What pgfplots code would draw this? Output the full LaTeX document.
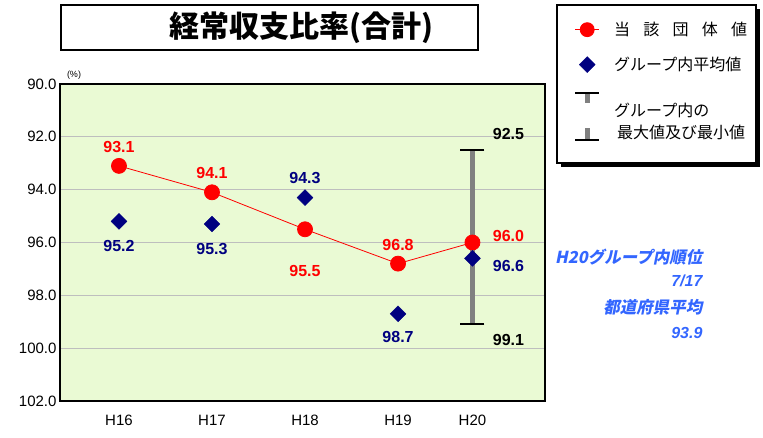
\documentclass[border=0pt]{standalone}
\usepackage{pgfplots}
\pgfplotsset{compat=1.18}
\usepackage{fontspec}
\setmainfont{Liberation Sans}
\newfontfamily\cjk{Noto Sans CJK JP}
\newfontfamily\cjkit{Noto Sans CJK JP}[FakeSlant=0.2]
\usetikzlibrary{shadows}
\definecolor{bgg}{RGB}{234,250,212}
\definecolor{navy}{RGB}{0,0,128}
\definecolor{annb}{RGB}{51,102,255}
\definecolor{gridg}{RGB}{190,190,190}
\definecolor{barg}{RGB}{128,128,128}
\begin{document}
\begin{tikzpicture}[x=1pt,y=1pt]
\begin{scope}[shift={(-60,-37)}]
\path[use as bounding box] (0,0) rectangle (763,438);
\draw[line width=1.5pt] (61,388) rectangle (478,433);
\node[font=\cjk\bfseries\fontsize{30}{34}\selectfont] at (301,410) {経常収支比率(合計)};
\draw[line width=1.5pt, fill=white, drop shadow={shadow xshift=4pt, shadow yshift=-4pt, fill=black, opacity=1}] (557,275) rectangle (756,433);
\end{scope}
\begin{axis}[
  scale only axis, width=485pt, height=317pt,
  xmin=-0.634, xmax=4.58, ymin=90, ymax=102,
  y dir=reverse, clip=false,
  ytick={90,92,...,102},
  xtick={0,1,2,3,3.8},
  xticklabels={H16,H17,H18,H19,H20},
  ymajorgrids,
  grid style={gridg, line width=1.2pt},
  axis background/.style={fill=bgg},
  axis line style={line width=2pt},
  major tick length=0pt,
  tick label style={font=\fontsize{15}{18}\selectfont},
  xticklabel style={yshift=-10pt, text height=11pt, text depth=0pt},
  /pgf/number format/assume math mode=true,
  yticklabel style={/pgf/number format/.cd, fixed, fixed zerofill, precision=1},
  legend style={at={(axis description cs:1.0598,1.2019)}, anchor=north west, draw=none, fill=none, inner sep=0pt, row sep=16pt, font=\cjk\fontsize{16}{19}\selectfont, /tikz/every odd column/.append style={column sep=12pt}},
  legend cell align=left,
]
\addplot[barg, line width=4.5pt, forget plot] coordinates {(3.8,92.5) (3.8,99.1)};
\addplot[only marks, mark=-, mark size=12pt, mark options={line width=2pt, draw=black}, forget plot] coordinates {(3.8,92.5) (3.8,99.1)};
\addplot[red, line width=0.8pt, mark=*, mark size=7.5pt, mark options={fill=red, draw=red}, forget plot] coordinates {(0,93.1) (1,94.1) (2,95.5) (3,96.8) (3.8,96.0)};
\addplot[only marks, mark=square*, mark size=5.6pt, mark options={rotate=45, fill=navy, draw=navy}, forget plot] coordinates {(0,95.2) (1,95.3) (2,94.3) (3,98.7) (3.8,96.6)};

\addlegendimage{legend image code/.code={\draw[red, line width=0.8pt, mark=*, mark size=7pt, mark options={fill=red}, mark repeat=2, mark phase=2] plot coordinates {(0pt,0pt) (12pt,0pt) (24pt,0pt)};}}
\addlegendentry{\makebox[133pt][s]{当\hfill 該\hfill 団\hfill 体\hfill 値}}
\addlegendimage{legend image code/.code={\draw[only marks, mark=square*, mark size=5.6pt, mark options={rotate=45, fill=navy, draw=navy}] plot coordinates {(12pt,0pt)};}}
\addlegendentry{グループ内平均値}
\addlegendimage{legend image code/.code={\draw[barg, line width=5pt] (12pt,23.5pt) -- (12pt,13.5pt); \draw[barg, line width=5pt] (12pt,-12pt) -- (12pt,-23.5pt); \draw[black, line width=2pt] (0pt,23.5pt) -- (24pt,23.5pt); \draw[black, line width=2pt] (0pt,-23.5pt) -- (24pt,-23.5pt);}}
\addlegendentry{\begin{tabular}{@{}l@{}}グループ内の\\[3pt] \hspace{3pt}最大値及び最小値\end{tabular}}

\begin{scope}[every node/.style={font=\bfseries\fontsize{16}{19}\selectfont}]
\node[text=red] at (axis cs:0,93.1) [yshift=19pt] {93.1};
\node[text=red] at (axis cs:1,94.1) [yshift=19pt] {94.1};
\node[text=red] at (axis cs:2,95.5) [yshift=-42pt] {95.5};
\node[text=red] at (axis cs:3,96.8) [yshift=19pt] {96.8};
\node[text=red] at (axis cs:3.8,96.0) [xshift=36pt, yshift=7pt] {96.0};
\node[text=navy] at (axis cs:0,95.2) [yshift=-25pt] {95.2};
\node[text=navy] at (axis cs:1,95.3) [yshift=-25pt] {95.3};
\node[text=navy] at (axis cs:2,94.3) [yshift=20pt] {94.3};
\node[text=navy] at (axis cs:3,98.7) [yshift=-23pt] {98.7};
\node[text=navy] at (axis cs:3.8,96.6) [xshift=36pt, yshift=-8pt] {96.6};
\node[text=black] at (axis cs:3.8,92.5) [xshift=36pt, yshift=16pt] {92.5};
\node[text=black] at (axis cs:3.8,99.1) [xshift=36pt, yshift=-16pt] {99.1};
\end{scope}
\end{axis}
\begin{scope}[shift={(-60,-37)}]
\node[font=\fontsize{9}{10}\selectfont] at (74,363) {(\%)};
\node[anchor=east, font=\cjkit\bfseries\fontsize{16.5}{19}\selectfont, text=annb] at (706,180.5) {H20グループ内順位};
\node[anchor=east, font=\bfseries\itshape\fontsize{16}{19}\selectfont, text=annb] at (706,157) {7/17};
\node[anchor=east, font=\cjkit\bfseries\fontsize{16.5}{19}\selectfont, text=annb] at (706,131) {都道府県平均};
\node[anchor=east, font=\bfseries\itshape\fontsize{16}{19}\selectfont, text=annb] at (706,105) {93.9};
\end{scope}
\end{tikzpicture}
\end{document}
